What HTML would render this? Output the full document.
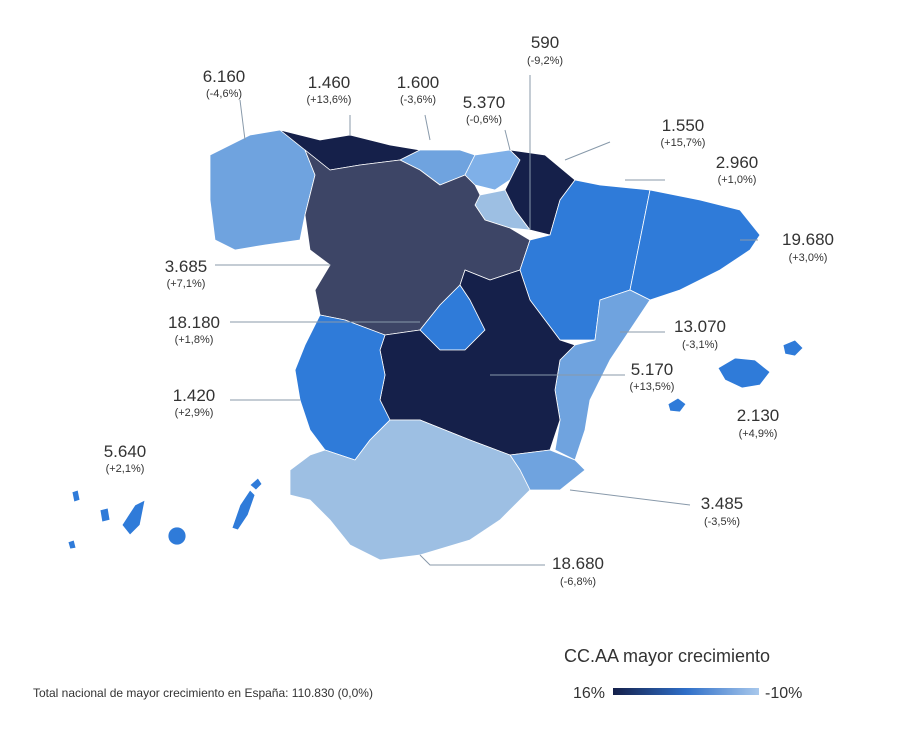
<!DOCTYPE html>
<html><head><meta charset="utf-8"><style>
html,body{margin:0;padding:0;background:#fff;}
svg text{font-family:"Liberation Sans",sans-serif;fill:#333;}
.v{font-size:17px;}
.p{font-size:11px;}
</style></head><body>
<svg width="900" height="738" viewBox="0 0 900 738" xmlns="http://www.w3.org/2000/svg">
<g stroke="#fff" stroke-width="0.8" stroke-linejoin="round">
<!-- Galicia -->
<polygon fill="#6fa3df" points="210,155 250,135 280,130 305,150 315,175 305,215 300,240 265,245 235,250 215,240 210,200"/>
<!-- Asturias -->
<polygon fill="#15204a" points="280,130 320,140 350,135 390,145 420,150 400,160 360,165 330,170 305,150"/>
<!-- Cantabria -->
<polygon fill="#6fa3df" points="420,150 460,150 475,155 465,175 440,185 420,170 400,160"/>
<!-- Pais Vasco -->
<polygon fill="#7fb0e8" points="475,155 510,150 520,160 510,180 495,190 475,185 465,175"/>
<!-- Navarra -->
<polygon fill="#15204a" points="510,150 545,155 575,180 560,200 550,235 530,230 515,210 505,190 520,160"/>
<!-- La Rioja -->
<polygon fill="#9dbfe3" points="480,195 505,190 515,210 530,230 510,228 485,220 475,205"/>
<!-- Castilla y Leon -->
<polygon fill="#3d4566" points="305,150 330,170 360,165 400,160 420,170 440,185 465,175 475,185 480,195 475,205 485,220 510,228 530,240 520,270 490,280 465,270 460,285 440,305 420,330 385,335 345,320 320,315 315,290 330,265 310,250 305,215 315,175"/>
<!-- Madrid -->
<polygon fill="#2f7bd9" points="440,305 460,285 470,300 485,330 465,350 440,350 420,330"/>
<!-- Aragon -->
<polygon fill="#2f7bd9" points="575,180 600,185 650,190 640,240 630,290 600,300 595,340 560,340 545,320 530,300 520,270 530,240 550,235 560,200"/>
<!-- Catalonia -->
<polygon fill="#2f7bd9" points="650,190 700,200 740,210 760,235 750,250 720,270 680,290 650,300 630,290 640,240"/>
<!-- Valencia -->
<polygon fill="#6fa3df" points="630,290 650,300 630,330 610,360 600,380 590,400 585,430 575,460 555,450 560,420 555,390 560,360 575,345 595,340 600,300"/>
<!-- Castilla-La Mancha -->
<polygon fill="#15204a" points="465,270 490,280 520,270 530,300 545,320 560,340 575,345 560,360 555,390 560,420 550,450 510,455 470,440 420,420 390,420 380,400 385,375 380,350 385,335 420,330 440,350 465,350 485,330 470,300 460,285"/>
<!-- Extremadura -->
<polygon fill="#2f7bd9" points="320,315 345,320 385,335 380,350 385,375 380,400 390,420 370,440 355,460 325,450 310,430 300,400 295,370 305,345"/>
<!-- Murcia -->
<polygon fill="#6fa3df" points="550,450 575,460 585,470 560,490 530,490 520,470 510,455"/>
<!-- Andalusia -->
<polygon fill="#9dbfe3" points="290,470 310,455 325,450 355,460 370,440 390,420 420,420 470,440 510,455 520,470 530,490 500,520 470,540 420,555 380,560 350,545 330,520 310,500 290,495"/>
<!-- Balearics -->
<polygon fill="#2f7bd9" points="718,368 735,358 755,360 770,372 760,385 742,388 725,380"/>
<polygon fill="#2f7bd9" points="783,345 795,340 803,348 795,356 785,354"/>
<polygon fill="#2f7bd9" points="668,404 678,398 686,404 680,412 670,411"/>
<!-- Canaries -->
<polygon fill="#2f7bd9" points="72,492 78,490 80,500 74,502"/>
<polygon fill="#2f7bd9" points="100,510 108,508 110,520 102,522"/>
<polygon fill="#2f7bd9" points="122,525 135,505 145,500 140,525 130,535"/>
<polygon fill="#2f7bd9" points="68,542 74,540 76,548 70,549"/>
<circle fill="#2f7bd9" cx="177" cy="536" r="9"/>
<polygon fill="#2f7bd9" points="232,528 240,505 250,490 255,495 248,515 238,530"/>
<polygon fill="#2f7bd9" points="250,485 258,478 262,484 256,490"/>
</g>
<g stroke="#8899aa" stroke-width="1" fill="none">
<polyline points="240,100 245,140"/>
<polyline points="350,115 350,135"/>
<polyline points="425,115 430,140"/>
<polyline points="505,130 510,150"/>
<polyline points="530,75 530,230"/>
<polyline points="610,142 565,160"/>
<polyline points="665,180 625,180"/>
<polyline points="758,240 740,240"/>
<polyline points="215,265 330,265"/>
<polyline points="230,322 420,322"/>
<polyline points="665,332 620,332"/>
<polyline points="625,375 490,375"/>
<polyline points="230,400 300,400"/>
<polyline points="690,505 570,490"/>
<polyline points="545,565 430,565 420,555"/>
</g>
<g text-anchor="middle">
<text class="v" x="224" y="82">6.160</text><text class="p" x="224" y="97">(-4,6%)</text>
<text class="v" x="329" y="88">1.460</text><text class="p" x="329" y="103">(+13,6%)</text>
<text class="v" x="418" y="88">1.600</text><text class="p" x="418" y="103">(-3,6%)</text>
<text class="v" x="484" y="108">5.370</text><text class="p" x="484" y="123">(-0,6%)</text>
<text class="v" x="545" y="48">590</text><text class="p" x="545" y="64">(-9,2%)</text>
<text class="v" x="683" y="131">1.550</text><text class="p" x="683" y="146">(+15,7%)</text>
<text class="v" x="737" y="168">2.960</text><text class="p" x="737" y="183">(+1,0%)</text>
<text class="v" x="808" y="245">19.680</text><text class="p" x="808" y="261">(+3,0%)</text>
<text class="v" x="186" y="272">3.685</text><text class="p" x="186" y="287">(+7,1%)</text>
<text class="v" x="194" y="328">18.180</text><text class="p" x="194" y="343">(+1,8%)</text>
<text class="v" x="700" y="332">13.070</text><text class="p" x="700" y="348">(-3,1%)</text>
<text class="v" x="652" y="375">5.170</text><text class="p" x="652" y="390">(+13,5%)</text>
<text class="v" x="194" y="401">1.420</text><text class="p" x="194" y="416">(+2,9%)</text>
<text class="v" x="758" y="421">2.130</text><text class="p" x="758" y="437">(+4,9%)</text>
<text class="v" x="125" y="457">5.640</text><text class="p" x="125" y="472">(+2,1%)</text>
<text class="v" x="722" y="509">3.485</text><text class="p" x="722" y="525">(-3,5%)</text>
<text class="v" x="578" y="569">18.680</text><text class="p" x="578" y="585">(-6,8%)</text>
</g>
<text x="564" y="662" style="font-size:18px">CC.AA mayor crecimiento</text>
<text x="33" y="697" style="font-size:12px">Total nacional de mayor crecimiento en España: 110.830 (0,0%)</text>
<defs><linearGradient id="g" x1="0" x2="1"><stop offset="0" stop-color="#15204a"/><stop offset="0.5" stop-color="#2f6fc8"/><stop offset="1" stop-color="#a8c8ec"/></linearGradient></defs>
<text x="573" y="698" style="font-size:16px">16%</text>
<rect x="613" y="688" width="146" height="7" fill="url(#g)"/>
<text x="765" y="698" style="font-size:16px">-10%</text>
</svg>
</body></html>
